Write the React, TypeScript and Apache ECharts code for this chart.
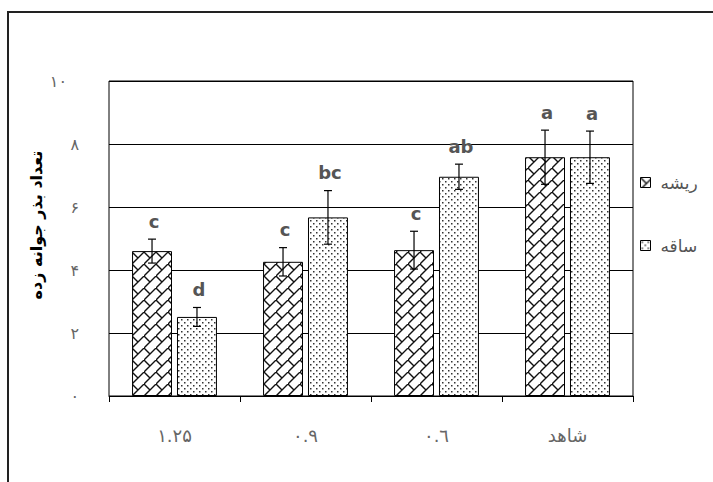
import React, { useEffect, useRef } from "react";
import * as echarts from "echarts";

// Treatments on the category axis
const categories = ["۱.۲۵", "۰.۹", "۰.٦", "شاهد"];
// Root (ریشه) means and their error half-widths
const rootValues = [4.6, 4.26, 4.63, 7.58];
const rootErrors = [0.38, 0.45, 0.6, 0.86];
const rootLetters = ["c", "c", "c", "a"];
// Stem (ساقه) means and their error half-widths
const stemValues = [2.51, 5.67, 6.96, 7.58];
const stemErrors = [0.3, 0.85, 0.4, 0.83];
const stemLetters = ["d", "bc", "ab", "a"];
// Y tick labels for 0, 2, 4, 6, 8, 10
const yTickLabels = ["۰", "۲", "۴", "۶", "۸", "۱۰"];

const seriesNames = ["ریشه", "ساقه"];
const yTitle = "تعداد بذر جوانه زده";

const BAR_FRACTION = 0.305;
const GAP_FRACTION = 0.125;

// Diagonal brick hatch: long "/" strokes with short staggered "\" joints
function brickTile(): HTMLCanvasElement {
  const s = 12;
  const c = document.createElement("canvas");
  c.width = s;
  c.height = s;
  const ctx = c.getContext("2d")!;
  ctx.fillStyle = "#fff";
  ctx.fillRect(0, 0, s, s);
  ctx.strokeStyle = "#111";
  ctx.lineWidth = 1.4;
  ctx.beginPath();
  ctx.moveTo(-2, s + 2);
  ctx.lineTo(s + 2, -2);
  ctx.moveTo(0, 0);
  ctx.lineTo(s / 2, s / 2);
  ctx.stroke();
  return c;
}

// Sparse dot stipple
function dotTile(): HTMLCanvasElement {
  const s = 6;
  const c = document.createElement("canvas");
  c.width = s;
  c.height = s;
  const ctx = c.getContext("2d")!;
  ctx.fillStyle = "#fff";
  ctx.fillRect(0, 0, s, s);
  ctx.fillStyle = "#333";
  ctx.fillRect(1, 1, 1.5, 1.5);
  ctx.fillRect(4, 4, 1.5, 1.5);
  return c;
}

function errorSeries(name: string, values: number[], errors: number[], letters: string[], side: number) {
  return {
    type: "custom",
    name,
    z: 5,
    data: values.map((v, i) => [i, v, errors[i]]),
    encode: { x: 0, y: 1 },
    renderItem: (params: any, api: any) => {
      const idx = api.value(0);
      const v = api.value(1);
      const e = api.value(2);
      const band = api.size([1, 0])[0];
      const barW = band * BAR_FRACTION;
      const offset = (side * (barW + barW * GAP_FRACTION)) / 2;
      const top = api.coord([idx, v + e]);
      const bot = api.coord([idx, v - e]);
      const x = top[0] + offset;
      const cap = 4;
      const lineStyle = { stroke: "#000", lineWidth: 1.2 };
      return {
        type: "group",
        children: [
          { type: "line", shape: { x1: x, y1: top[1], x2: x, y2: bot[1] }, style: lineStyle },
          { type: "line", shape: { x1: x - cap, y1: top[1], x2: x + cap, y2: top[1] }, style: lineStyle },
          { type: "line", shape: { x1: x - cap, y1: bot[1], x2: x + cap, y2: bot[1] }, style: lineStyle },
          {
            type: "text",
            x: x + 2,
            y: top[1] - 9,
            style: {
              text: letters[params.dataIndex],
              fontFamily: "DejaVu Sans",
              fontWeight: "bold",
              fontSize: 18,
              fill: "#555",
              align: "center",
              verticalAlign: "bottom",
            },
          },
        ],
      };
    },
  };
}

export default function App() {
  const ref = useRef<HTMLDivElement>(null);

  useEffect(() => {
    if (!ref.current) return;
    const chart = echarts.init(ref.current, null, { renderer: "svg" });
    const brick = { image: brickTile(), repeat: "repeat" };
    const dots = { image: dotTile(), repeat: "repeat" };

    chart.setOption({
      animation: false,
      backgroundColor: "#fff",
      grid: {
        left: 109,
        right: 80,
        top: 81,
        bottom: 86,
        show: true,
        borderColor: "#000",
        borderWidth: 1,
        backgroundColor: "transparent",
      },
      legend: {
        data: seriesNames,
        orient: "vertical",
        left: 635,
        top: 169,
        itemGap: 46,
        itemWidth: 10,
        itemHeight: 10,
        icon: "rect",
        itemStyle: { borderColor: "#000", borderWidth: 1 },
        textStyle: {
          fontFamily: "DejaVu Sans",
          fontSize: 17,
          color: "#555",
          padding: [0, 0, 0, 5],
        },
      },
      xAxis: {
        type: "category",
        data: categories,
        axisLine: { lineStyle: { color: "#000", width: 1 } },
        axisTick: { show: true, inside: false, length: 6, lineStyle: { color: "#000" } },
        axisLabel: {
          margin: 30,
          fontFamily: "DejaVu Sans",
          fontSize: 18,
          color: "#666",
        },
      },
      yAxis: {
        type: "value",
        min: 0,
        max: 10,
        interval: 2,
        axisLine: { show: false },
        axisTick: { show: false },
        splitLine: { show: true, lineStyle: { color: "#000", width: 1 } },
        axisLabel: {
          margin: 30,
          formatter: (v: number) => {
            const label = yTickLabels[Math.round(v / 2)];
            return v === 10 ? `{wide|${label}}` : `{n|${label}}`;
          },
          rich: {
            n: { fontFamily: "DejaVu Sans", fontSize: 16, color: "#666" },
            wide: { fontFamily: "DejaVu Sans", fontSize: 16, color: "#666", padding: [0, 12, 0, 0] },
          },
        },
      },
      graphic: [
        {
          type: "rect",
          silent: true,
          shape: { x: 8, y: 12, width: 800, height: 600 },
          style: { fill: "none", stroke: "#222", lineWidth: 2 },
        },
        {
          type: "text",
          x: 36,
          y: 225,
          rotation: Math.PI / 2,
          style: {
            text: yTitle,
            fontFamily: "DejaVu Sans",
            fontWeight: "bold",
            fontSize: 16,
            fill: "#000",
            align: "center",
            verticalAlign: "middle",
          },
        },
      ],
      series: [
        {
          type: "bar",
          name: seriesNames[0],
          data: rootValues,
          barWidth: `${BAR_FRACTION * 100}%`,
          barGap: `${GAP_FRACTION * 100}%`,
          itemStyle: { color: brick, borderColor: "#000", borderWidth: 1 },
        },
        {
          type: "bar",
          name: seriesNames[1],
          data: stemValues,
          barWidth: `${BAR_FRACTION * 100}%`,
          barGap: `${GAP_FRACTION * 100}%`,
          itemStyle: { color: dots, borderColor: "#000", borderWidth: 1 },
        },
        errorSeries("err-root", rootValues, rootErrors, rootLetters, -1),
        errorSeries("err-stem", stemValues, stemErrors, stemLetters, 1),
      ],
    });

    return () => chart.dispose();
  }, []);

  return (
    <div
      ref={ref}
      style={{ position: "fixed", left: 0, top: 0, width: 713, height: 482 }}
    />
  );
}
